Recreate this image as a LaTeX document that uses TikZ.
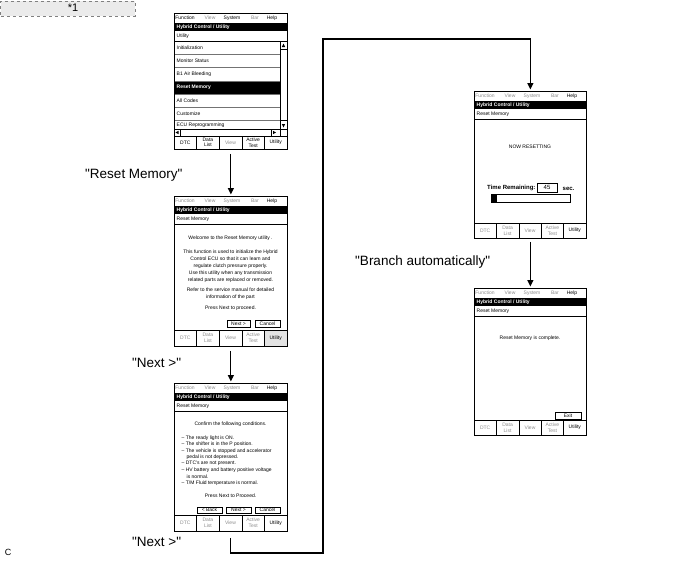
\documentclass[tikz,border=0pt]{standalone}
\usepackage{fontspec}
\setmainfont{Liberation Sans}[Ligatures=TeXOff]
\usetikzlibrary{arrows.meta,calc}
\definecolor{dis}{gray}{0.55}
\definecolor{notefill}{gray}{0.92}
\definecolor{sepcol}{gray}{0.45}
\newcommand{\uifont}{\fontsize{5}{5.6}\selectfont}
\newcommand{\chrome}[7]{%
  \node[ui,text=#4] (m1) at (11,5) {Function};
  \node[ui,text=dis] (m2) at (36,5) {View};
  \node[ui,text=#4] (m3) at (58,5) {System};
  \node[ui,text=dis] (m4) at (81,5) {Bar};
  \node[ui] (m5) at (98,5) {Help};
  \fill (0,10) rectangle (#1,18);
  \node[ui,anchor=west,text=white,font=\uifont\bfseries] (tt) at (2.5,14) {Hybrid Control / Utility};
  \node[ui,anchor=west] (st) at (2.5,23) {#3};
  \draw[thinl] (0,28) -- (#1,28);
  \fill[#7] ({#1*0.8},{#2-#5}) rectangle (#1,#2);
  \draw[thinl] (0,{#2-#5}) -- (#1,{#2-#5});
  \foreach \k in {1,...,4} \draw[thinl] ({#1*\k/5},{#2-#5}) -- ({#1*\k/5},#2);
  \node[ui,text=#6] (t1) at ({#1*0.1},{#2-#5/2}) {DTC};
  \node[ui,text=#6,align=center] (t2) at ({#1*0.3},{#2-#5/2}) {Data\\List};
  \node[ui,text=dis] (t3) at ({#1*0.5},{#2-#5/2}) {View};
  \node[ui,text=#6,align=center] (t4) at ({#1*0.7},{#2-#5/2}) {Active\\Test};
  \node[ui] (t5) at ({#1*0.9},{#2-#5/2}) {Utility};
  \draw[frameline] (0,0) rectangle (#1,#2);
}
\tikzset{
  frame/.style={draw, line width=0.8pt, inner sep=0, anchor=north west},
  frameline/.style={line width=0.8pt},
  thinl/.style={line width=0.5pt},
  sepl/.style={line width=0.7pt, sepcol},
  ui/.style={font=\uifont, inner sep=0},
  uib/.style={font=\fontsize{6}{7}\selectfont\bfseries, inner sep=0},
  btn/.style={draw, line width=0.5pt, inner sep=0, font=\uifont, minimum height=6.5pt},
  lbl/.style={font=\fontsize{13.5}{15}\selectfont, inner sep=0, anchor=west},
  flow/.style={line width=1.1pt},
  tip/.style={-{Triangle[length=6.5pt,width=6pt]}},
  notebox/.style={draw=gray, dashed, fill=notefill, line width=0.6pt, inner sep=0, anchor=north west}
}
\begin{document}
\begin{tikzpicture}[x=1pt,y=-1pt]
\useasboundingbox (0,0) rectangle (688,560);

% note box
\node[notebox, minimum width=134pt, minimum height=15pt] (note) at (0.5,0.5) {};
\node[font=\fontsize{11}{12}\selectfont, inner sep=0] (notetxt) at (73,8) {*1};

% ---------- screen 1 ----------
\node[frame, minimum width=113pt, minimum height=136pt] (s1) at (174,13) {};
\begin{scope}[shift={(s1.north west)}]
  \fill (0,68) rectangle (106,81);
  \foreach \yy in {41,54.5,68,81,94,107} \draw[sepl] (0,\yy) -- (106,\yy);
  \node[ui,anchor=west] (r1) at (2.5,34.5) {Initialization};
  \node[ui,anchor=west] (r2) at (2.5,47.8) {Monitor Status};
  \node[ui,anchor=west] (r3) at (2.5,61.2) {B1 Air Bleeding};
  \node[ui,anchor=west,text=white,font=\uifont\bfseries] (r4) at (2.5,74.5) {Reset Memory};
  \node[ui,anchor=west] (r5) at (2.5,87.5) {All Codes};
  \node[ui,anchor=west] (r6) at (2.5,100.5) {Customize};
  \node[ui,anchor=west] (r7) at (2.5,112.5) {ECU Reprogramming};
  % vertical scrollbar
  \draw[thinl] (106,28) -- (106,123);
  \draw[thinl] (106,36.5) -- (113,36.5);
  \fill (109.5,30.5) -- (107.8,34) -- (111.2,34) -- cycle;
  \draw[thinl] (106,107.5) -- (113,107.5);
  \fill (109.5,114.5) -- (107.8,111) -- (111.2,111) -- cycle;
  % horizontal scrollbar
  \fill[white] (0,116) rectangle (106,123);
  \draw[thinl] (0,116) -- (113,116);
  \draw[thinl] (6,116) -- (6,123);
  \fill (1.5,119.5) -- (4.5,117.8) -- (4.5,121.2) -- cycle;
  \draw[thinl] (97,116) -- (97,123);
  \fill (102,119.5) -- (99,117.8) -- (99,121.2) -- cycle;
  \chrome{113}{136}{Utility}{black}{13}{black}{white}
\end{scope}

% ---------- screen 2 ----------
\node[frame, minimum width=113pt, minimum height=150pt] (s2) at (174,196) {};
\begin{scope}[shift={(s2.north west)}]
  \chrome{113}{150}{Reset Memory}{dis}{16}{dis}{gray!22}
  \node[ui] (w1) at (56.5,42) {Welcome to the Reset Memory utility .};
  \node[ui] (w2) at (56.5,56) {This function is used to initialize the Hybrid};
  \node[ui] (w3) at (56.5,63) {Control ECU so that it can learn and};
  \node[ui] (w4) at (56.5,70) {regulate clutch pressure properly.};
  \node[ui] (w5) at (56.5,77) {Use this utility when any transmission};
  \node[ui] (w6) at (56.5,84) {related parts are replaced or removed.};
  \node[ui] (w7) at (56.5,94) {Refer to the service manual for detailed};
  \node[ui] (w8) at (56.5,101) {information of the part};
  \node[ui] (w9) at (56.5,112) {Press Next to proceed.};
  \node[btn, minimum width=23pt] (b2n) at (64.5,127.5) {Next >};
  \node[btn, minimum width=25pt] (b2c) at (93.5,127.5) {Cancel};
\end{scope}

% ---------- screen 3 ----------
\node[frame, minimum width=113pt, minimum height=148pt] (s3) at (174,383) {};
\begin{scope}[shift={(s3.north west)}]
  \chrome{113}{148}{Reset Memory}{dis}{16}{dis}{white}
  \node[ui] (cf) at (56.5,41) {Confirm the following conditions.};
  \node[ui,anchor=west] (k1) at (7.5,55) {– The ready light is ON.};
  \node[ui,anchor=west] (k2) at (7.5,61.5) {– The shifter is in the P position.};
  \node[ui,anchor=west] (k3) at (7.5,68) {– The vehicle is stopped and accelerator};
  \node[ui,anchor=west] (k3b) at (12.5,74.3) {pedal is not depressed.};
  \node[ui,anchor=west] (k4) at (7.5,80.5) {– DTC's are not present.};
  \node[ui,anchor=west] (k5) at (7.5,87) {– HV battery and battery positive voltage};
  \node[ui,anchor=west] (k5b) at (12.5,93.5) {is normal.};
  \node[ui,anchor=west] (k6) at (7.5,100) {– T/M Fluid temperature is normal.};
  \node[ui] (pn) at (56.5,113) {Press Next to Proceed.};
  \node[btn, minimum width=25pt] (b3b) at (35.5,127) {< Back};
  \node[btn, minimum width=25pt] (b3n) at (64.5,127) {Next >};
  \node[btn, minimum width=25pt] (b3c) at (93.5,127) {Cancel};
\end{scope}

% ---------- screen 4 ----------
\node[frame, minimum width=112pt, minimum height=147pt] (s4) at (474,91) {};
\begin{scope}[shift={(s4.north west)}]
  \chrome{112}{147}{Reset Memory}{dis}{15}{dis}{white}
  \node[ui] (nr) at (56,56) {NOW RESETTING};
  \node[uib,anchor=west] (trl) at (13,97) {Time Remaining:};
  \node[draw, line width=0.5pt, inner sep=0, minimum width=20pt, minimum height=9pt, font=\fontsize{6}{7}\selectfont] (trv) at (73,96.5) {45};
  \node[uib,anchor=west] (sec) at (88.5,97.5) {sec.};
  \draw[line width=0.6pt] (17,103) rectangle (96,111);
  \fill (17,103) rectangle (23,111);
\end{scope}

% ---------- screen 5 ----------
\node[frame, minimum width=112pt, minimum height=147pt] (s5) at (474,288) {};
\begin{scope}[shift={(s5.north west)}]
  \chrome{112}{147}{Reset Memory}{dis}{15}{dis}{white}
  \node[ui] (done) at (56,50) {Reset Memory is complete.};
  \node[btn, minimum width=26pt] (b5e) at (94,127.5) {Exit};
\end{scope}

% ---------- connectors ----------
\draw[flow,tip] ([yshift=-4pt]s1.south) -- ([yshift=1.5pt]s2.north);
\draw[flow,tip] ([yshift=-4pt]s2.south) -- ([yshift=1.5pt]s3.north);
\coordinate (c1) at (323,553);
\coordinate (c2) at (323,39);
\draw[flow,tip] ([yshift=-6pt]s3.south) |- (c1) -- (c2) -| ([yshift=1.5pt]s4.north);
\draw[flow,tip] ([yshift=-3pt]s4.south) -- ([yshift=1.5pt]s5.north);

% ---------- labels ----------
\node[lbl] (l1) at (85,175) {"Reset Memory"};
\node[lbl] (l2) at (132,363) {"Next >"};
\node[lbl] (l3) at (132,542) {"Next >"};
\node[lbl] (l4) at (355,262) {"Branch automatically"};
\node[font=\fontsize{9}{10}\selectfont, inner sep=0] (cc) at (8,552) {C};
\end{tikzpicture}
\end{document}
